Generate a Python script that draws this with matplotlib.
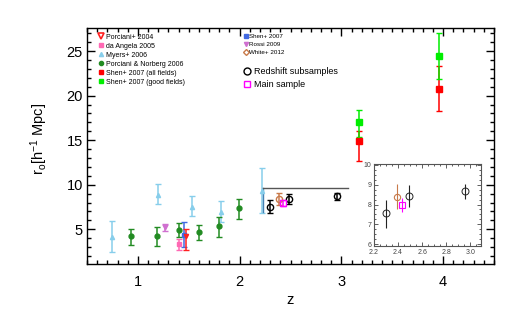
import matplotlib
matplotlib.use("Agg")
import matplotlib.pyplot as plt
from matplotlib.lines import Line2D
from matplotlib.ticker import MultipleLocator
import numpy as np

plt.rcParams['font.family'] = ['Liberation Sans', 'DejaVu Sans']
plt.rcParams['mathtext.fontset'] = 'custom'
plt.rcParams['mathtext.rm'] = 'Liberation Sans'
plt.rcParams['mathtext.it'] = 'Liberation Sans'

# ---- data ----
myers_z = [0.75, 1.20, 1.53, 1.82, 2.22]
myers_r = [4.1, 8.9, 7.5, 6.9, 9.3]
myers_lo = [1.7, 1.1, 1.0, 1.1, 2.45]
myers_hi = [1.8, 1.2, 1.2, 1.3, 2.6]

pn_z = [0.93, 1.19, 1.40, 1.60, 1.80, 1.99]
pn_r = [4.3, 4.3, 4.9, 4.7, 5.4, 7.4]
pn_lo = [1.1, 1.2, 0.8, 0.9, 1.3, 1.2]
pn_hi = [0.7, 1.0, 0.8, 0.8, 1.0, 1.0]

rossi_z = [1.27]
rossi_r = [5.2]
rossi_err = [0.4]

angela_z = [1.40]
angela_r = [3.3]
angela_lo = [0.6]
angela_hi = [0.6]

shen_z = [1.45]
shen_r = [4.4]
shen_lo = [1.4]
shen_hi = [1.45]

porc04_z = [1.47]
porc04_r = [4.2]
porc04_lo = [1.5]
porc04_hi = [0.8]

white_z = [2.39]
white_r = [8.4]
white_lo = [0.62]
white_hi = [0.65]

main_z = [2.43]
main_r = [8.0]
main_lo = [0.36]
main_hi = [0.34]

sub_z = [2.30, 2.49, 2.96]
sub_r = [7.55, 8.42, 8.68]
sub_lo = [0.72, 0.57, 0.38]
sub_hi = [0.70, 0.56, 0.38]

shen_all_z = [3.17, 3.96]
shen_all_r = [14.9, 20.8]
shen_all_lo = [2.2, 2.5]
shen_all_hi = [1.1, 2.5]

shen_good_z = [3.17, 3.96]
shen_good_r = [17.0, 24.4]
shen_good_lo = [1.6, 2.5]
shen_good_hi = [1.4, 2.6]

# zoom box outline (data coords)
box_x = [2.23, 2.23, 3.07]
box_y = [6.9, 9.6, 9.6]

c_myers = '#87CEEB'
c_pn = '#228B22'
c_rossi = '#D070D0'
c_angela = '#FF69B4'
c_shen = '#4169E1'
c_porc = '#FF2020'
c_white = '#C87A4A'
c_main = '#FF00FF'
c_all = '#FF0000'
c_good = '#00EE00'

fig = plt.figure(figsize=(5.21, 3.21), dpi=100)
ax = fig.add_axes([87/521, 1-264/321, 407/521, 236/321])

ekw = dict(capsize=2, elinewidth=1.1, capthick=1.0, linestyle='none')
ax.errorbar(myers_z, myers_r, yerr=[myers_lo, myers_hi], color=c_myers, marker='^', ms=3, **ekw)
ax.errorbar(pn_z, pn_r, yerr=[pn_lo, pn_hi], color=c_pn, marker='o', ms=3.5, **ekw)
ax.errorbar(rossi_z, rossi_r, yerr=rossi_err, color=c_rossi, marker='v', ms=3.5, **ekw)
ax.errorbar(angela_z, angela_r, yerr=[angela_lo, angela_hi], color=c_angela, marker='s', ms=3.5, **ekw)
ax.errorbar(shen_z, shen_r, yerr=[shen_lo, shen_hi], color=c_shen, marker='s', ms=3.5, **ekw)
ax.errorbar(porc04_z, porc04_r, yerr=[porc04_lo, porc04_hi], color=c_porc, marker='v', ms=3, **ekw)
ax.errorbar(white_z, white_r, yerr=[white_lo, white_hi], color=c_white, marker='o', ms=4.5,
            mfc='none', mew=1.0, **ekw)
ax.errorbar(sub_z, sub_r, yerr=[sub_lo, sub_hi], color='black', marker='o', ms=4.5,
            mfc='none', mew=1.0, **ekw)
ax.errorbar(main_z, main_r, yerr=[main_lo, main_hi], color=c_main, marker='s', ms=5,
            mfc='none', mew=1.0, **ekw)
ax.errorbar(shen_all_z, shen_all_r, yerr=[shen_all_lo, shen_all_hi], color=c_all, marker='s', ms=4, **ekw)
ax.errorbar(shen_good_z, shen_good_r, yerr=[shen_good_lo, shen_good_hi], color=c_good, marker='s', ms=4, **ekw)

ax.plot(box_x[:2], box_y[:2], color='#4682B4', lw=1.0)
ax.plot(box_x[1:], box_y[1:], color='#555555', lw=1.0)

ax.set_xlim(0.5, 4.5)
ax.set_ylim(1.1, 27.6)
ax.xaxis.set_major_locator(MultipleLocator(1))
ax.xaxis.set_minor_locator(MultipleLocator(0.1))
ax.yaxis.set_major_locator(MultipleLocator(5))
ax.yaxis.set_minor_locator(MultipleLocator(1))
ax.tick_params(which='both', direction='in', top=True, right=True, width=1)
ax.tick_params(which='major', length=6, labelsize=10.5)
ax.tick_params(axis='x', which='major', pad=8)
ax.tick_params(axis='y', which='major', pad=3)
ax.tick_params(which='minor', length=3)
for s in ax.spines.values():
    s.set_linewidth(1.0)

ax.set_xlabel('z', fontsize=10.5, labelpad=3)
ax.set_ylabel(r'r$_{\rm o}$[h$^{-1}$ Mpc]', fontsize=10.5)
ax.yaxis.set_label_coords(-0.09, 0.53)

# legends
left_handles = [
    Line2D([], [], color=c_porc, marker='v', ls='none', ms=4, mfc='none', mew=1.2),
    Line2D([], [], color=c_angela, marker='s', ls='none', ms=3),
    Line2D([], [], color=c_myers, marker='^', ls='none', ms=3),
    Line2D([], [], color=c_pn, marker='o', ls='none', ms=3),
    Line2D([], [], color=c_all, marker='s', ls='none', ms=3),
    Line2D([], [], color=c_good, marker='s', ls='none', ms=3),
]
left_labels = ['Porciani+ 2004', 'da Angela 2005', 'Myers+ 2006', 'Porciani & Norberg 2006',
               'Shen+ 2007 (all fields)', 'Shen+ 2007 (good fields)']
leg1 = ax.legend(left_handles, left_labels, loc='upper left', bbox_to_anchor=(0.025, 0.975),
                 frameon=False, fontsize=5, handlelength=1.0, handletextpad=0.2,
                 labelspacing=0.28, borderpad=0, borderaxespad=0)
ax.add_artist(leg1)

right_handles = [
    Line2D([], [], color=c_shen, marker='s', ls='none', ms=3),
    Line2D([], [], color=c_rossi, marker='v', ls='none', ms=3),
    Line2D([], [], color=c_white, marker='D', ls='none', ms=3, mfc='none', mew=1),
]
right_labels = ['Shen+ 2007', 'Rossi 2009', 'White+ 2012']
leg2 = ax.legend(right_handles, right_labels, loc='upper left', bbox_to_anchor=(0.385, 0.975),
                 frameon=False, fontsize=4.5, handlelength=0.6, handletextpad=0.2,
                 labelspacing=0.4, borderpad=0, borderaxespad=0)
ax.add_artist(leg2)

big_handles = [
    Line2D([], [], color='black', marker='o', ls='none', ms=5, mfc='none', mew=1),
    Line2D([], [], color=c_main, marker='s', ls='none', ms=5, mfc='none', mew=1),
]
big_labels = ['Redshift subsamples', 'Main sample']
leg3 = ax.legend(big_handles, big_labels, loc='upper left', bbox_to_anchor=(0.385, 0.835),
                 frameon=False, fontsize=6.5, handlelength=0.8, handletextpad=0.3,
                 labelspacing=0.45, borderpad=0, borderaxespad=0)

# inset
axi = fig.add_axes([374/521, 1-246/321, 107/521, 82/321])
ikw = dict(capsize=0, elinewidth=0.8, linestyle='none')
axi.errorbar(white_z, white_r, yerr=[white_lo, white_hi], color=c_white, marker='o', ms=4.5,
             mfc='none', mew=0.8, **ikw)
axi.errorbar(main_z, main_r, yerr=[main_lo, main_hi], color=c_main, marker='s', ms=5,
             mfc='none', mew=0.8, **ikw)
axi.errorbar(sub_z, sub_r, yerr=[sub_lo, sub_hi], color='#222222', marker='o', ms=5,
             mfc='none', mew=0.7, **ikw)
axi.set_xlim(2.2, 3.09)
axi.set_ylim(5.9, 10.05)
axi.xaxis.set_major_locator(MultipleLocator(0.2))
axi.xaxis.set_minor_locator(MultipleLocator(0.05))
axi.yaxis.set_major_locator(MultipleLocator(1))
axi.yaxis.set_minor_locator(MultipleLocator(0.25))
axi.tick_params(which='both', direction='in', top=True, right=True, colors='#444444',
                labelsize=5, width=0.6)
axi.tick_params(which='major', length=3, pad=2)
axi.tick_params(which='minor', length=1.5)
axi.set_xticks([2.2, 2.4, 2.6, 2.8, 3.0])
axi.set_xticklabels(['2.2', '2.4', '2.6', '2.8', '3.0'])
for s in axi.spines.values():
    s.set_linewidth(0.8)
    s.set_color('#555555')

fig.savefig('out.png', dpi=100)
